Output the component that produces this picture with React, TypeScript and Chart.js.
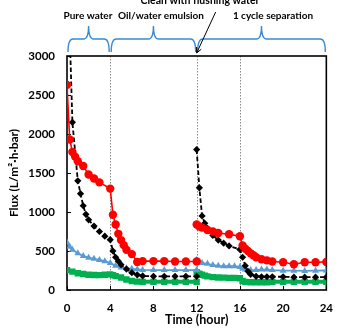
import { useEffect, useRef } from 'react';
import { Chart, registerables } from 'chart.js';

Chart.register(...registerables);

// Flux readings per membrane (time in hours, flux in L/m²·h·bar).
// A repeated time value marks the restart after the cleaning step.
const redTime = [0, 0.25, 0.5, 0.75, 1, 1.5, 2, 2.5, 3, 4, 4.25, 4.5, 4.75, 5, 5.25, 5.5, 6, 6.5, 7, 8, 9, 10, 11, 12, 12, 12.25, 12.5, 13, 13.5, 14, 15, 16, 16.25, 16.5, 16.75, 17, 17.25, 17.5, 18, 18.5, 19, 20, 21, 22, 23, 24];
const redFlux = [2630, 1930, 1770, 1710, 1650, 1590, 1480, 1430, 1380, 1300, 965, 840, 720, 640, 575, 515, 460, 360, 370, 370, 370, 365, 365, 365, 840, 815, 800, 770, 750, 730, 715, 690, 570, 530, 500, 470, 445, 420, 395, 380, 365, 355, 330, 355, 355, 360];

const blackTime = [0.25, 0.5, 1, 1.25, 1.5, 1.75, 2, 2.5, 3, 3.5, 4, 4.25, 4.5, 4.75, 5, 5.5, 6, 6.5, 7, 8, 9, 10, 11, 12, 12, 12.25, 12.5, 12.75, 13, 13.5, 14, 14.5, 15, 16, 16.25, 16.5, 16.75, 17, 17.5, 18, 18.5, 19, 20, 21, 22, 23, 24];
const blackFlux = [3300, 2150, 1400, 1235, 1080, 970, 900, 820, 750, 690, 645, 500, 420, 370, 325, 268, 222, 195, 180, 175, 175, 175, 175, 175, 1800, 1310, 950, 855, 790, 700, 640, 600, 565, 520, 420, 310, 240, 200, 175, 170, 170, 170, 170, 165, 165, 165, 165];

const blueTime = [0, 0.25, 0.5, 1, 1.5, 2, 2.5, 3, 3.5, 4, 4.5, 5, 5.5, 6, 6.5, 7, 8, 9, 10, 11, 12, 12, 12.25, 12.5, 13, 13.5, 14, 14.5, 15, 15.5, 16, 16.25, 16.5, 17, 17.5, 18, 18.5, 19, 20, 21, 22, 23, 24];
const blueFlux = [610, 555, 515, 470, 435, 415, 400, 385, 370, 345, 310, 290, 280, 272, 265, 258, 256, 256, 256, 256, 256, 385, 365, 345, 335, 320, 310, 305, 305, 305, 295, 275, 262, 255, 255, 262, 262, 255, 248, 248, 245, 248, 250];

const greenTime = [0, 0.5, 1, 1.5, 2, 2.5, 3, 3.5, 4, 4.25, 4.5, 5, 5.5, 6, 6.5, 7, 8, 9, 10, 11, 12, 12, 12.25, 12.5, 12.75, 13, 13.5, 14, 14.5, 15, 15.5, 16, 16.25, 16.5, 17, 17.5, 18, 18.5, 19, 20, 21, 22, 23, 24];
const greenFlux = [255, 235, 215, 205, 195, 192, 190, 195, 200, 190, 178, 160, 135, 115, 107, 105, 105, 105, 105, 105, 105, 230, 210, 195, 185, 175, 165, 160, 158, 155, 155, 150, 115, 105, 100, 100, 100, 100, 105, 105, 105, 105, 105, 105];

// Stage boundaries (hours) shown as dotted verticals
const separators = [4, 12, 16];

// Process stages bracketed above the plot
const phaseLabels = ['Pure water', 'Oil/water emulsion', '1 cycle separation'];
const phaseStart = [0, 4, 12];
const phaseEnd = [4, 12, 24];

const cleanLabel = 'Clean with flushing water';
const cleanTime = 12;

const xTitle = 'Time (hour)';
const yTitle = 'Flux (L/m²·h·bar)';

const FONT = 'Lato';

// Build {x, y} points, leaving a gap wherever the run restarts at the same time
function toPoints(t: number[], v: number[]) {
  const pts: { x: number; y: number | null }[] = [];
  t.forEach((x, i) => {
    if (i > 0 && t[i - 1] === x) pts.push({ x, y: null });
    pts.push({ x, y: v[i] });
  });
  return pts;
}

function drawBrace(ctx: CanvasRenderingContext2D, x0: number, x1: number, yTip: number, yLine: number, yEnd: number) {
  const xm = (x0 + x1) / 2;
  const r = 5;
  ctx.beginPath();
  ctx.moveTo(x0, yEnd);
  ctx.quadraticCurveTo(x0, yLine, x0 + r, yLine);
  ctx.lineTo(xm - r, yLine);
  ctx.quadraticCurveTo(xm, yLine, xm, yTip);
  ctx.moveTo(xm, yTip);
  ctx.quadraticCurveTo(xm, yLine, xm + r, yLine);
  ctx.lineTo(x1 - r, yLine);
  ctx.quadraticCurveTo(x1, yLine, x1, yEnd);
  ctx.stroke();
}

const framePlugin = {
  id: 'frame',
  beforeDatasetsDraw(chart: any) {
    const { ctx, chartArea: a, scales } = chart;
    const x = scales.x;
    const y = scales.y;
    ctx.save();
    // dotted stage separators
    ctx.strokeStyle = '#8a8a8a';
    ctx.lineWidth = 1;
    ctx.setLineDash([1.5, 1.5]);
    for (const t of separators) {
      const px = Math.round(x.getPixelForValue(t)) + 0.5;
      ctx.beginPath();
      ctx.moveTo(px, a.top);
      ctx.lineTo(px, a.bottom);
      ctx.stroke();
    }
    ctx.setLineDash([]);
    // inward tick marks
    ctx.strokeStyle = '#000';
    ctx.lineWidth = 1;
    for (const tk of y.ticks) {
      const py = Math.round(y.getPixelForValue(tk.value)) + 0.5;
      ctx.beginPath();
      ctx.moveTo(a.left, py);
      ctx.lineTo(a.left + 4, py);
      ctx.stroke();
    }
    for (const tk of x.ticks) {
      const px = Math.round(x.getPixelForValue(tk.value)) + 0.5;
      ctx.beginPath();
      ctx.moveTo(px, a.bottom);
      ctx.lineTo(px, a.bottom - 4);
      ctx.stroke();
    }
    // plot frame
    ctx.lineWidth = 1.6;
    ctx.strokeRect(a.left, a.top, a.right - a.left, a.bottom - a.top);
    ctx.restore();
  },
  afterDraw(chart: any) {
    const { ctx, chartArea: a, scales } = chart;
    const x = scales.x;
    ctx.save();
    // stage braces
    ctx.strokeStyle = '#3a8bd0';
    ctx.lineWidth = 1.4;
    for (let i = 0; i < phaseLabels.length; i++) {
      const x0 = x.getPixelForValue(phaseStart[i]) + 1;
      const x1 = x.getPixelForValue(phaseEnd[i]) - 1;
      drawBrace(ctx, x0, x1, 26, 39, a.top - 4);
    }
    // stage labels
    ctx.fillStyle = '#000';
    ctx.font = `bold 10px ${FONT}`;
    ctx.textAlign = 'center';
    ctx.textBaseline = 'alphabetic';
    const labelX = [88, 161, 273];
    for (let i = 0; i < phaseLabels.length; i++) {
      ctx.fillText(phaseLabels[i], labelX[i], 19);
    }
    ctx.font = `bold 10.5px ${FONT}`;
    ctx.fillText(cleanLabel, 200, 4);
    // arrow to the cleaning point
    const tipX = x.getPixelForValue(cleanTime);
    const tipY = a.top - 3;
    const sx = tipX + 19;
    const sy = 12;
    ctx.strokeStyle = '#000';
    ctx.lineWidth = 1;
    ctx.beginPath();
    ctx.moveTo(sx, sy);
    ctx.lineTo(tipX, tipY);
    ctx.stroke();
    const ang = Math.atan2(tipY - sy, tipX - sx);
    const hl = 6;
    ctx.beginPath();
    ctx.moveTo(tipX, tipY);
    ctx.lineTo(tipX - hl * Math.cos(ang - 0.45), tipY - hl * Math.sin(ang - 0.45));
    ctx.moveTo(tipX, tipY);
    ctx.lineTo(tipX - hl * Math.cos(ang + 0.45), tipY - hl * Math.sin(ang + 0.45));
    ctx.stroke();
    ctx.restore();
  },
};

export default function App() {
  const ref = useRef<HTMLCanvasElement | null>(null);

  useEffect(() => {
    if (!ref.current) return;
    const chart = new Chart(ref.current, {
      type: 'line',
      data: {
        datasets: [
          {
            data: toPoints(redTime, redFlux),
            borderColor: '#ff0000',
            backgroundColor: '#ff0000',
            borderWidth: 1.6,
            pointStyle: 'circle',
            pointRadius: 4.2,
            pointBorderWidth: 0,
          },
          {
            data: toPoints(blackTime, blackFlux),
            borderColor: '#000000',
            backgroundColor: '#000000',
            borderWidth: 1.8,
            borderDash: [4.5, 2.5],
            pointStyle: 'rectRot',
            pointRadius: 3.6,
            pointBorderWidth: 0,
          },
          {
            data: toPoints(blueTime, blueFlux),
            borderColor: '#5b9bd5',
            backgroundColor: '#5b9bd5',
            borderWidth: 1.8,
            pointStyle: 'triangle',
            pointRadius: 4,
            pointBorderWidth: 0,
          },
          {
            data: toPoints(greenTime, greenFlux),
            borderColor: '#00b050',
            backgroundColor: '#00b050',
            borderWidth: 4,
            pointStyle: 'rect',
            pointRadius: 4.5,
            pointBorderWidth: 0,
          },
        ],
      },
      options: {
        responsive: false,
        animation: false,
        devicePixelRatio: 1,
        spanGaps: false,
        layout: { padding: { top: 56, right: 8, left: 0, bottom: 0 } },
        plugins: { legend: { display: false }, tooltip: { enabled: false } },
        elements: { line: { tension: 0 } },
        scales: {
          x: {
            type: 'linear',
            min: 0,
            max: 24,
            ticks: {
              stepSize: 4,
              padding: 11,
              color: '#000',
              font: { family: FONT, size: 11.5, weight: 'bold' },
              callback: (v: any) => String(v),
            },
            grid: { display: false, drawTicks: false },
            border: { display: false },
            title: {
              display: true,
              text: xTitle,
              color: '#000',
              padding: { top: 0, bottom: 1 },
              font: { family: FONT, size: 12.5, weight: 'bold' },
            },
            afterFit: (s: any) => {
              s.height = 38;
            },
          },
          y: {
            min: 0,
            max: 3000,
            ticks: {
              stepSize: 500,
              padding: 12,
              color: '#000',
              font: { family: FONT, size: 11.5, weight: 'bold' },
              callback: (v: any) => String(v),
            },
            grid: { display: false, drawTicks: false },
            border: { display: false },
            title: {
              display: true,
              text: yTitle,
              color: '#000',
              padding: { top: 7, bottom: 0 },
              font: { family: FONT, size: 12, weight: 'bold' },
            },
            afterFit: (s: any) => {
              s.width = 67;
            },
          },
        },
      },
      plugins: [framePlugin],
    } as any);
    return () => chart.destroy();
  }, []);

  return (
    <div style={{ position: 'absolute', left: 0, top: 0, width: 344, height: 328, background: '#fff' }}>
      <canvas ref={ref} width={344} height={328} />
    </div>
  );
}
